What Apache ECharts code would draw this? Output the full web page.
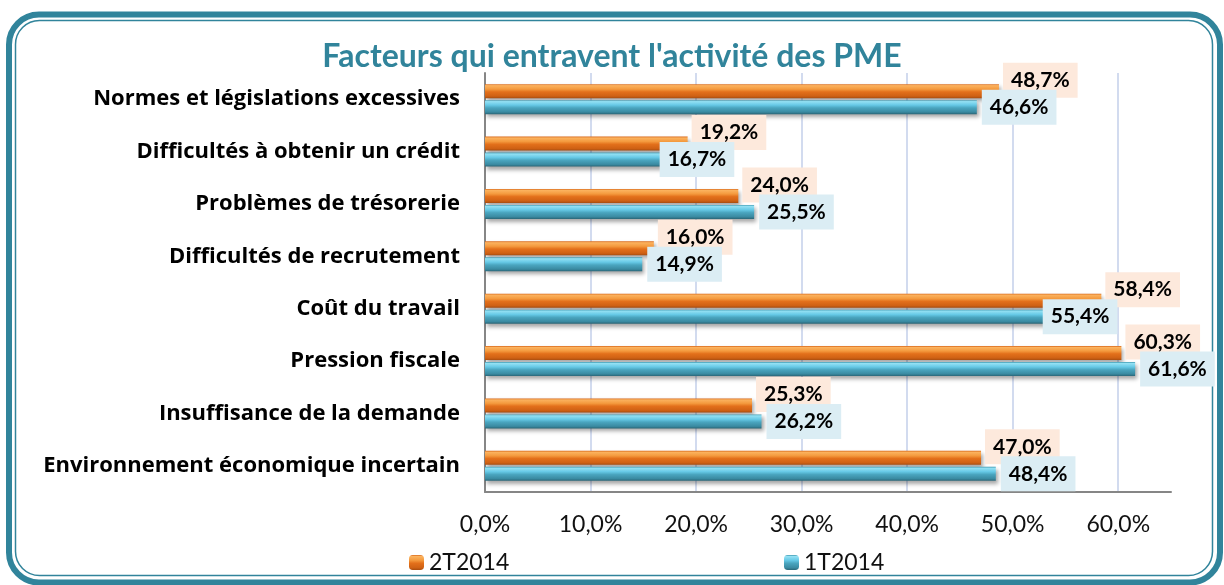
<!DOCTYPE html>
<html><head><meta charset="utf-8">
<script src="https://cdn.jsdelivr.net/npm/echarts@6/dist/echarts.min.js"></script>
<style>html,body{margin:0;padding:0;background:#fff}#c{width:1224px;height:585px}</style>
</head><body><div id="c"></div>
<script>
const categories = [
  "Normes et législations excessives",
  "Difficultés à obtenir un crédit",
  "Problèmes de trésorerie",
  "Difficultés de recrutement",
  "Coût du travail",
  "Pression fiscale",
  "Insuffisance de la demande",
  "Environnement économique incertain"
];
const seriesNames = ["2T2014", "1T2014"];
const values2T2014 = [48.7, 19.2, 24.0, 16.0, 58.4, 60.3, 25.3, 47.0];
const values1T2014 = [46.6, 16.7, 25.5, 14.9, 55.4, 61.6, 26.2, 48.4];
const titleText = "Facteurs qui entravent l'activité des PME";

const FONT = 'Lato';
const CAT_FONT = 'Open Sans';
const LABEL_DIST = 4;
const fmt = v => v.toFixed(1).replace('.', ',') + '%';
const grad = stops => new echarts.graphic.LinearGradient(0, 0, 0, 1, stops.map(c => ({offset: c[0], color: c[1]})));
const orangeFill = grad([[0, '#d9691a'], [0.1, '#fbb25e'], [0.35, '#f49a3e'], [0.55, '#e3701b'], [0.85, '#cf6114'], [1, '#a84d10']]);
const tealFill = grad([[0, '#3d98b0'], [0.1, '#93e0f3'], [0.35, '#66c9e6'], [0.55, '#4aa5bf'], [0.85, '#3a8aa1'], [1, '#2a6677']]);

const chart = echarts.init(document.getElementById('c'), null, {renderer: 'canvas'});

// keep a 1T2014 label clear of the next category's 2T2014 label (as the original does)
function tealLabelLayout(p) {
  const i = p.dataIndex;
  if (i + 1 >= values2T2014.length) return {};
  const nextStart = chart.convertToPixel({gridIndex: 0}, [values2T2014[i + 1], i + 1])[0] + LABEL_DIST;
  const right = p.labelRect.x + p.labelRect.width;
  if (nextStart > p.labelRect.x - 2 && right > nextStart - 8) {
    return {dx: (nextStart - 8) - right};
  }
  return {};
}

chart.setOption({
  animation: false,
  backgroundColor: '#ffffff',
  title: {
    text: titleText, left: 'center', top: 36,
    textStyle: {fontFamily: FONT, fontSize: 32, fontWeight: 'bold', color: '#31849b'}
  },
  graphic: [
    {type: 'rect', shape: {x: 9, y: 14.5, width: 1211, height: 568, r: 30}, style: {fill: null, stroke: '#31849b', lineWidth: 6}, silent: true},
    {type: 'rect', shape: {x: 15.5, y: 20.5, width: 1197, height: 555, r: 24}, style: {fill: null, stroke: '#31849b', lineWidth: 1.5}, silent: true}
  ],
  legend: [
    {data: [seriesNames[0]], left: 404, top: 546, itemWidth: 15, itemHeight: 15, itemGap: 6,
     textStyle: {fontFamily: FONT, fontSize: 23, color: '#111'}},
    {data: [seriesNames[1]], left: 779, top: 546, itemWidth: 15, itemHeight: 15, itemGap: 6,
     textStyle: {fontFamily: FONT, fontSize: 23, color: '#111'}}
  ],
  grid: {left: 485, right: 53, top: 73, bottom: 93, containLabel: false},
  xAxis: {
    type: 'value', min: 0, max: 65, interval: 10,
    axisLine: {show: true, lineStyle: {color: '#868686', width: 2}},
    axisTick: {show: false},
    axisLabel: {fontFamily: FONT, fontSize: 23, color: '#111', margin: 21, showMaxLabel: false, formatter: v => v === 65 ? '' : fmt(v)},
    splitLine: {show: true, showMinLine: false, showMaxLine: false, lineStyle: {color: '#c3cfea', width: 1.5}}
  },
  yAxis: {
    type: 'category', data: categories, inverse: true,
    axisLine: {show: true, lineStyle: {color: '#868686', width: 2}},
    axisTick: {show: false},
    axisLabel: {fontFamily: CAT_FONT, fontSize: 22, fontWeight: 'bold', color: '#000', margin: 25}
  },
  series: [
    {
      name: seriesNames[0], type: 'bar', data: values2T2014, barWidth: 14, barGap: '14%',
      itemStyle: {color: orangeFill, shadowColor: 'rgba(0,0,0,0.35)', shadowBlur: 4, shadowOffsetX: 2, shadowOffsetY: 3},
      label: {show: true, position: 'right', distance: LABEL_DIST, offset: [0, -11], formatter: p => fmt(p.value),
        fontFamily: FONT, fontSize: 21, fontWeight: 'bold', color: '#000', backgroundColor: '#fde9dc', padding: [5, 8], lineHeight: 25}
    },
    {
      name: seriesNames[1], type: 'bar', data: values1T2014, barWidth: 14,
      itemStyle: {color: tealFill, shadowColor: 'rgba(0,0,0,0.35)', shadowBlur: 4, shadowOffsetX: 2, shadowOffsetY: 3},
      labelLayout: tealLabelLayout,
      label: {show: true, position: 'right', distance: LABEL_DIST + 1, offset: [0, 8], formatter: p => fmt(p.value),
        fontFamily: FONT, fontSize: 21, fontWeight: 'bold', color: '#000', backgroundColor: '#dbedf4', padding: [5, 8], lineHeight: 25}
    }
  ]
});
</script></body></html>
